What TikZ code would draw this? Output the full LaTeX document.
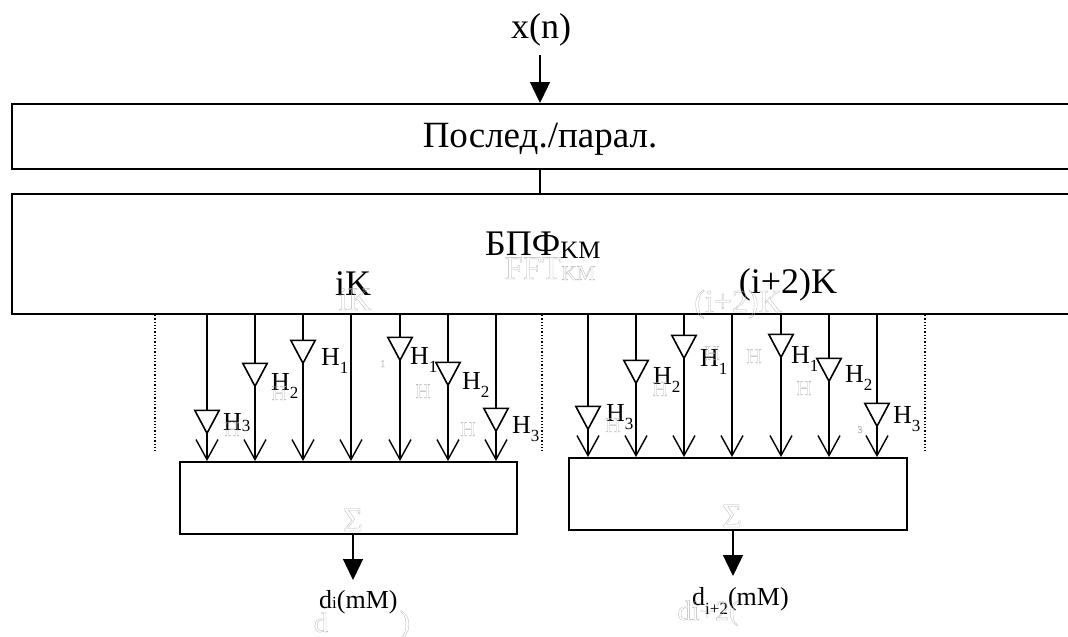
\documentclass[tikz,border=0pt]{standalone}
\usepackage{fontspec}
\setmainfont{Liberation Serif}
\usepackage{xcolor}
\usepackage{tikz}
\usetikzlibrary{shapes.geometric, arrows.meta, positioning, calc, backgrounds}

\newcommand{\fsize}[1]{\fontsize{#1}{#1}\selectfont}
\newcommand{\hsub}[2][-8pt]{H\raisebox{#1}{\fsize{17}#2}}
\newcommand{\outl}[1]{\special{pdf:code 1 Tr 0.3 w}#1\special{pdf:code 0 Tr}}

\begin{document}
\begin{tikzpicture}[
    x=1pt, y=-1pt,
    widebox/.style={rectangle, draw=black, line width=1.9pt, inner sep=0pt, minimum width=1080pt, anchor=north west},
    sumbox/.style={rectangle, draw=black, line width=1.6pt, inner sep=0pt, anchor=north west},
    amp/.style={isosceles triangle, isosceles triangle apex angle=56, shape border rotate=270, draw=black, fill=white, line width=1.6pt, minimum height=23pt, inner sep=0pt, anchor=apex},
    biglabel/.style={inner sep=0pt, anchor=base, font=\fsize{36}},
    hlabel/.style={inner sep=0pt, anchor=base west, font=\fsize{26}},
    outlabel/.style={inner sep=0pt, anchor=base west, font=\fsize{26}},
    ghost/.style={inner sep=0pt, anchor=base, text=black!30, font=\fsize{21}},
    wire/.style={line width=1.4pt, draw=black},
    tap/.style={-{Straight Barb[length=20pt, width=22pt, line width=1.4pt]}, wire},
    bigarrow/.style={-{Triangle[length=21pt, width=20pt]}, wire},
    sep/.style={line width=1.3pt, dotted, draw=black}
]
\useasboundingbox (0,0) rectangle (1068,637);

% Input and the two wide blocks
\node[biglabel] (x_in) at (541,38) {x(n)};
\coordinate (x_start) at (540,55);
\node[widebox, minimum height=65pt] (serial) at (11,103) {};
\node[biglabel, font=\fsize{37}] (serial_text) at (540,147) {Послед./парал.};
\node[widebox, minimum height=120pt] (fft) at (11,193) {};
\node[biglabel, anchor=base west] (fft_text) at (485,255) {БПФ\raisebox{-3pt}{\fsize{25}KM}};
\node[biglabel] (ik_text) at (353,295) {iK};
\node[biglabel] (i2k_text) at (788,293) {(i+2)K};

\draw[bigarrow] (x_start) -- (serial.north -| x_start);
\draw[wire] (serial.south -| x_start) -- (fft.north -| x_start);

% Summing blocks
\node[sumbox, minimum width=337pt, minimum height=72pt] (sum_a) at (179,461) {};
\node[sumbox, minimum width=338pt, minimum height=72pt] (sum_b) at (568,457) {};

% Filters, left group
\node[amp] (amp_a1) at (207,435) {};
\node[amp] (amp_a2) at (255,388) {};
\node[amp] (amp_a3) at (303,365) {};
\coordinate (tap_a4) at (351,340);
\node[amp] (amp_a5) at (400,362) {};
\node[amp] (amp_a6) at (448,387) {};
\node[amp] (amp_a7) at (496,433) {};

% Filters, right group
\node[amp] (amp_b1) at (588,431) {};
\node[amp] (amp_b2) at (636,385) {};
\node[amp] (amp_b3) at (684,360) {};
\coordinate (tap_b4) at (732,340);
\node[amp] (amp_b5) at (781,359) {};
\node[amp] (amp_b6) at (829,383) {};
\node[amp] (amp_b7) at (877,428) {};

% Taps run behind the triangles
\begin{scope}[on background layer]
\draw[tap] (fft.south -| amp_a1.apex) -- (sum_a.north -| amp_a1.apex);
\draw[tap] (fft.south -| amp_a2.apex) -- (sum_a.north -| amp_a2.apex);
\draw[tap] (fft.south -| amp_a3.apex) -- (sum_a.north -| amp_a3.apex);
\draw[tap] (fft.south -| tap_a4) -- (sum_a.north -| tap_a4);
\draw[tap] (fft.south -| amp_a5.apex) -- (sum_a.north -| amp_a5.apex);
\draw[tap] (fft.south -| amp_a6.apex) -- (sum_a.north -| amp_a6.apex);
\draw[tap] (fft.south -| amp_a7.apex) -- (sum_a.north -| amp_a7.apex);
\draw[tap] (fft.south -| amp_b1.apex) -- (sum_b.north -| amp_b1.apex);
\draw[tap] (fft.south -| amp_b2.apex) -- (sum_b.north -| amp_b2.apex);
\draw[tap] (fft.south -| amp_b3.apex) -- (sum_b.north -| amp_b3.apex);
\draw[tap] (fft.south -| tap_b4) -- (sum_b.north -| tap_b4);
\draw[tap] (fft.south -| amp_b5.apex) -- (sum_b.north -| amp_b5.apex);
\draw[tap] (fft.south -| amp_b6.apex) -- (sum_b.north -| amp_b6.apex);
\draw[tap] (fft.south -| amp_b7.apex) -- (sum_b.north -| amp_b7.apex);
\end{scope}

% Filter labels
\node[hlabel] (lab_a1) at (223,430) {\hsub[-1pt]{3}};
\node[hlabel] (lab_a2) at (271,390) {\hsub{2}};
\node[hlabel] (lab_a3) at (321,365) {\hsub{1}};
\node[hlabel] (lab_a5) at (410,364) {\hsub{1}};
\node[hlabel] (lab_a6) at (462,389) {\hsub{2}};
\node[hlabel] (lab_a7) at (512,433) {\hsub{3}};
\node[hlabel] (lab_b1) at (606,421) {\hsub{3}};
\node[hlabel] (lab_b2) at (653,384) {\hsub{2}};
\node[hlabel] (lab_b3) at (700,366) {\hsub{1}};
\node[hlabel] (lab_b5) at (791,363) {\hsub{1}};
\node[hlabel] (lab_b6) at (845,382) {\hsub{2}};
\node[hlabel] (lab_b7) at (893,423) {\hsub{3}};

% Separators
\coordinate (sep_l) at (155,451);
\coordinate (sep_m) at (542,451);
\coordinate (sep_r) at (925,451);
\draw[sep] (fft.south -| sep_l) -- (sep_l);
\draw[sep] (fft.south -| sep_m) -- (sep_m);
\draw[sep] (fft.south -| sep_r) -- (sep_r);

% Outputs
\coordinate (out_a) at (353,580);
\coordinate (out_b) at (733,576);
\draw[bigarrow] (sum_a.south -| out_a) -- (out_a);
\draw[bigarrow] (sum_b.south -| out_b) -- (out_b);
\node[outlabel] (d_a) at (319,608) {d\fsize{17}i\fsize{26}(mM)};
\node[outlabel] (d_b) at (692,605) {d\raisebox{-9pt}{\fsize{17}i+2}(mM)};

% Faint underlying text
\node[ghost, font=\fsize{33}] (g_fft) at (550,279) {\outl{FFT\raisebox{-1pt}{\fsize{21}KM}}};
\node[ghost, font=\fsize{33}] (g_ik) at (355,310) {\outl{iK}};
\node[ghost, font=\fsize{32}] (g_i2k) at (738,312) {\outl{(i+2)K}};
\node[ghost, font=\fsize{34}] (g_sum_a) at (353,531) {\outl{Σ}};
\node[ghost, font=\fsize{34}] (g_sum_b) at (732,527) {\outl{Σ}};
\node[ghost, font=\fsize{28}] (g_d_a) at (321,632) {\outl{d}};
\node[ghost, font=\fsize{31}] (g_par_a) at (405,632) {\outl{)}};
\node[ghost, font=\fsize{28}] (g_d_b) at (708,620) {\outl{di+2(}};
\node[ghost] (g_h1) at (232,436) {\outl{H}};
\node[ghost] (g_h2) at (279,400) {\outl{H}};
\node[ghost, font=\fsize{10}] (g_n1) at (383,367) {\outl{1}};
\node[ghost] (g_h3) at (423,398) {\outl{H}};
\node[ghost] (g_h4) at (468,436) {\outl{H}};
\node[ghost] (g_h5) at (613,432) {\outl{H}};
\node[ghost] (g_h6) at (660,396) {\outl{H}};
\node[ghost] (g_h7) at (712,360) {\outl{H}};
\node[ghost] (g_h8) at (754,363) {\outl{H}};
\node[ghost] (g_h9) at (804,395) {\outl{H}};
\node[ghost, font=\fsize{10}] (g_n3) at (860,433) {\outl{3}};

\end{tikzpicture}
\end{document}
